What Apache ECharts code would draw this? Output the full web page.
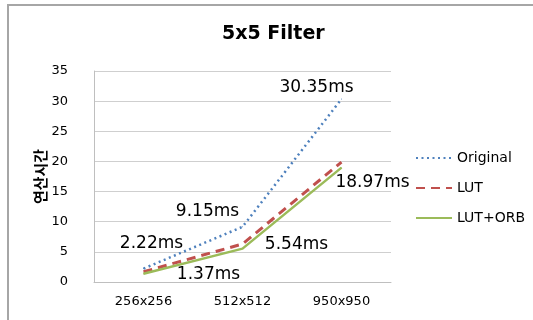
<!DOCTYPE html>
<html>
<head>
<meta charset="utf-8">
<script src="https://cdn.jsdelivr.net/npm/echarts@6/dist/echarts.min.js"></script>
<style>html,body{margin:0;padding:0;background:#fff}#c{width:533px;height:320px}</style>
</head>
<body>
<div id="c"></div>
<script>
const categories = ['256x256', '512x512', '950x950'];
const original = [2.22, 9.15, 30.35];
const lut = [1.7, 6.3, 19.9];
const lutOrb = [1.37, 5.54, 18.97];
const yTicks = { min: 0, max: 35, interval: 5 };
const seriesNames = ['Original', 'LUT', 'LUT+ORB'];

// label offsets (styling only)
const origOffsets = [[8, -25], [-35, -15], [-25, -11]];
const orbOffsets = [[65, 1], [54, -4], [31, 15]];

const labelFont = { fontFamily: 'DejaVu Sans', fontSize: 17, color: '#000' };

function withLabels(values, offsets) {
  return values.map((v, i) => ({
    value: v,
    label: {
      show: true,
      position: 'inside',
      offset: offsets[i],
      formatter: v.toFixed(2) + 'ms',
      ...labelFont
    }
  }));
}

const chart = echarts.init(document.getElementById('c'), null, { renderer: 'canvas' });
chart.setOption({
  animation: false,
  backgroundColor: '#fff',
  title: {
    text: '5x5 Filter',
    left: 217,
    top: 20,
    textStyle: { fontFamily: 'DejaVu Sans', fontWeight: 'bold', fontSize: 19, color: '#000' }
  },
  graphic: [{
    type: 'rect',
    shape: { x: 8, y: 5, width: 600, height: 400 },
    style: { fill: 'none', stroke: '#a6a6a6', lineWidth: 2 },
    silent: true
  }],
  legend: {
    orient: 'vertical',
    left: 410,
    top: 146,
    itemWidth: 36,
    itemHeight: 14,
    itemGap: 16,
    itemStyle: { opacity: 0 },
    textStyle: { fontFamily: 'DejaVu Sans', fontSize: 14, color: '#000' },
    data: seriesNames
  },
  grid: { left: 94, right: 142, top: 71, bottom: 38, containLabel: false },
  xAxis: {
    type: 'category',
    data: categories,
    boundaryGap: true,
    axisLine: { lineStyle: { color: '#bfbfbf', width: 1 } },
    axisTick: { show: false },
    axisLabel: { fontFamily: 'DejaVu Sans', fontSize: 13, color: '#000', margin: 13 }
  },
  yAxis: {
    type: 'value',
    min: yTicks.min,
    max: yTicks.max,
    interval: yTicks.interval,
    name: '연산시간',
    nameLocation: 'middle',
    nameRotate: 90,
    nameGap: 46,
    nameMoveOverlap: false,
    nameTextStyle: { fontFamily: 'Noto Sans CJK KR', fontWeight: 'bold', fontSize: 15, color: '#000' },
    axisLine: { show: true, lineStyle: { color: '#bfbfbf', width: 1 } },
    axisTick: { show: false },
    axisLabel: { fontFamily: 'DejaVu Sans', fontSize: 13, color: '#000', margin: 26 },
    splitLine: { lineStyle: { color: '#cfcfcf', width: 1 } }
  },
  series: [
    {
      name: seriesNames[0],
      type: 'line',
      data: withLabels(original, origOffsets),
      symbol: 'circle',
      symbolSize: 1,
      itemStyle: { color: '#4f81bd' },
      lineStyle: { color: '#4f81bd', width: 2.5, type: [2, 3.5] },
      z: 3
    },
    {
      name: seriesNames[1],
      type: 'line',
      data: lut,
      symbol: 'none',
      itemStyle: { color: '#c0504d' },
      lineStyle: { color: '#c0504d', width: 3, type: [9, 6] },
      z: 2
    },
    {
      name: seriesNames[2],
      type: 'line',
      data: withLabels(lutOrb, orbOffsets),
      symbol: 'circle',
      symbolSize: 1,
      itemStyle: { color: '#9bbb59' },
      lineStyle: { color: '#9bbb59', width: 2.5 },
      z: 4
    }
  ]
});
</script>
</body>
</html>
